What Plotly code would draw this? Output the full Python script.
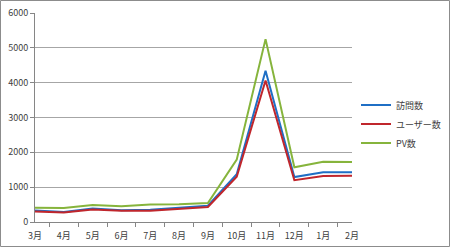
import plotly.graph_objects as go

months = ["3月", "4月", "5月", "6月", "7月", "8月", "9月", "10月", "11月", "12月", "1月", "2月"]
visits = [330, 290, 390, 340, 350, 410, 470, 1370, 4340, 1290, 1430, 1430]
users = [305, 270, 360, 320, 320, 380, 430, 1300, 4060, 1200, 1320, 1330]
pv = [410, 400, 490, 450, 500, 510, 545, 1790, 5250, 1570, 1730, 1720]
series_names = ["訪問数", "ユーザー数", "PV数"]
colors = ["#1F6FC5", "#C0262C", "#86B43C"]
y_ticks = [0, 1000, 2000, 3000, 4000, 5000, 6000]

W, H = 450, 247
L, R, T, B = 35, 98, 13, 25
pw, ph = W - L - R, H - T - B

fig = go.Figure()
for name, vals, c in zip(series_names, [visits, users, pv], colors):
    fig.add_trace(go.Scatter(x=months, y=vals, name=name, mode="lines",
                             line=dict(color=c, width=2)))

font = "Noto Sans CJK JP, sans-serif"
fig.update_layout(
    width=W, height=H,
    margin=dict(l=L, r=R, t=T, b=B, pad=0, autoexpand=False),
    paper_bgcolor="white", plot_bgcolor="white",
    font=dict(family=font, size=9, color="#404040"),
    showlegend=True,
    legend=dict(x=(356 - L) / pw, y=(222 - 124) / ph, xanchor="left", yanchor="middle",
                font=dict(size=9, color="#404040"), itemwidth=30, tracegroupgap=0,
                bgcolor="rgba(0,0,0,0)"),
    xaxis=dict(type="category", tickson="boundaries", ticks="outside", ticklen=4,
               tickcolor="#868686", showline=True, linecolor="#868686", linewidth=1,
               showgrid=False, tickangle=0, tickfont=dict(size=9, color="#404040"),
               ticklabelstandoff=5, fixedrange=True, automargin=False),
    yaxis=dict(range=[0, 6000], tickvals=y_ticks, ticks="outside", ticklen=4,
               tickcolor="#868686", showline=True, linecolor="#868686", linewidth=1,
               showgrid=True, gridcolor="#A6A6A6", gridwidth=1, zeroline=False,
               tickfont=dict(size=9, color="#404040"), fixedrange=True, automargin=False),
)

# outer chart border
fig.add_shape(type="rect", xref="paper", yref="paper",
              x0=(0.5 - L) / pw, x1=(W - 0.5 - L) / pw,
              y0=(H - B - (H - 0.5)) / ph, y1=(H - B - 0.5) / ph,
              line=dict(color="#8C8C8C", width=1), fillcolor="rgba(0,0,0,0)")

fig.write_html("out.html")
